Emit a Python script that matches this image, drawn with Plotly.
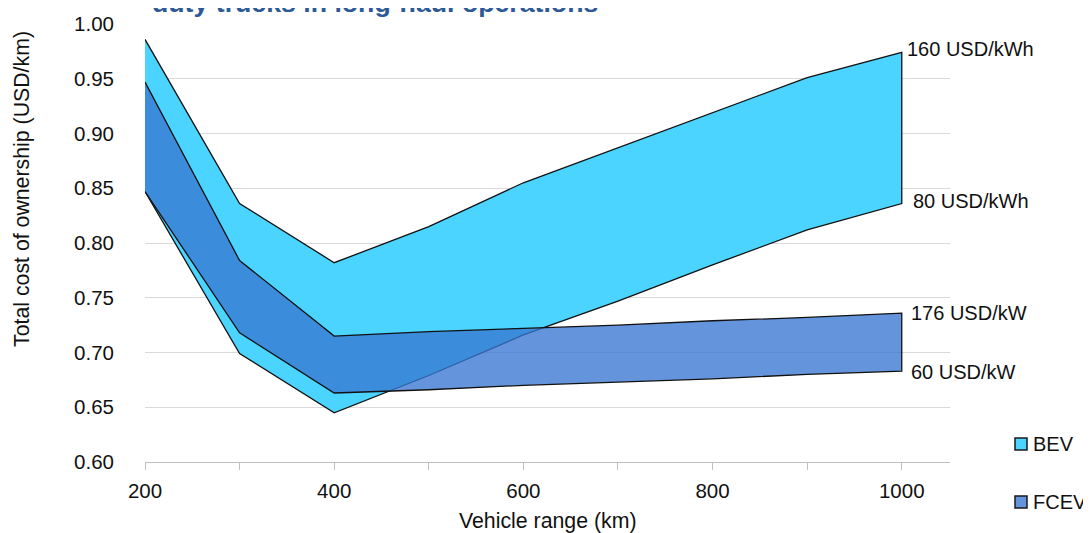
import plotly.graph_objects as go

# ---- data ----
range_km = [200, 300, 400, 500, 600, 700, 800, 900, 1000]
bev_160 = [0.986, 0.836, 0.782, 0.815, 0.855, 0.887, 0.919, 0.951, 0.974]
bev_80 = [0.847, 0.699, 0.645, 0.679, 0.716, 0.747, 0.780, 0.812, 0.836]
fcev_176 = [0.947, 0.784, 0.715, 0.719, 0.722, 0.725, 0.729, 0.732, 0.736]
fcev_60 = [0.847, 0.718, 0.663, 0.666, 0.670, 0.673, 0.676, 0.680, 0.683]
end_labels_bev = ["160 USD/kWh", "80 USD/kWh"]
end_labels_fcev = ["176 USD/kW", "60 USD/kW"]
series_names = ["BEV", "FCEV"]

title_text = "duty trucks in long-haul operations"
x_title = "Vehicle range (km)"
y_title = "Total cost of ownership (USD/km)"

BEV_FILL = "#4AD4FF"
FCEV_FILL = "rgba(56,119,210,0.78)"
FCEV_LEGEND = "#6495DC"
EDGE = "#111111"
FONT = "Liberation Sans, Arial, sans-serif"

# page is shown with the browser's default 8px body margin
OFF = 8
PAGE_W, PAGE_H = 1091, 533
W, H = PAGE_W - OFF, PAGE_H - OFF
PL, PR, PT, PB = 145, 950, 24, 462          # plot area in page pixels
ML, MT = PL - OFF, PT - OFF
MR, MB = W - (PR - OFF), H - (PB - OFF)
PW, PH = PR - PL, PB - PT


def px_x(p):
    return (p - PL) / PW


def px_y(p):
    return (PB - p) / PH


fig = go.Figure()


def band(upper, lower, fill, name):
    xs = range_km + range_km[::-1]
    ys = upper + lower[::-1]
    fig.add_trace(go.Scatter(
        x=xs, y=ys, mode="lines", fill="toself", fillcolor=fill,
        line=dict(color=EDGE, width=1.3), name=name, showlegend=False,
        hoverinfo="skip"))


band(bev_160, bev_80, BEV_FILL, series_names[0])
band(fcev_176, fcev_60, FCEV_FILL, series_names[1])

annotations = []
shapes = []
# end labels
for txt, yv, xs in [(end_labels_bev[0], bev_160[-1], 3), (end_labels_bev[1], bev_80[-1], 9)]:
    annotations.append(dict(x=range_km[-1], y=yv, xref="x", yref="y", text=txt,
                            showarrow=False, xanchor="left", yanchor="middle",
                            xshift=xs, yshift=3, font=dict(size=20, color="#111111", family=FONT)))
for txt, yv, ys in [(end_labels_fcev[0], fcev_176[-1], 0), (end_labels_fcev[1], fcev_60[-1], -1)]:
    annotations.append(dict(x=range_km[-1], y=yv, xref="x", yref="y", text=txt,
                            showarrow=False, xanchor="left", yanchor="middle",
                            xshift=7, yshift=ys, font=dict(size=20, color="#111111", family=FONT)))
# clipped title (only its lower part shows at the top edge)
annotations.append(dict(x=px_x(150), y=px_y(20), xref="paper", yref="paper", text="<b>" + title_text + "</b>",
                        showarrow=False, xanchor="left", yanchor="bottom",
                        font=dict(size=26.7, color="#2D5A96", family=FONT)))
# axis titles
annotations.append(dict(x=0.5, y=px_y(521), xref="paper", yref="paper", text=x_title,
                        showarrow=False, xanchor="center", yanchor="middle",
                        font=dict(size=21.3, color="#111111", family=FONT)))
annotations.append(dict(x=px_x(22), y=px_y(189), xref="paper", yref="paper", text=y_title,
                        showarrow=False, xanchor="center", yanchor="middle", textangle=-90,
                        font=dict(size=21.3, color="#111111", family=FONT)))

# legend (swatch + label)
for name, col, cy in zip(series_names, [BEV_FILL, FCEV_LEGEND], [444, 502]):
    shapes.append(dict(type="rect", xref="paper", yref="paper",
                       x0=px_x(1015), x1=px_x(1027), y0=px_y(cy + 6), y1=px_y(cy - 6),
                       fillcolor=col, line=dict(color="#1a1a1a", width=1.5)))
    annotations.append(dict(x=px_x(1031), y=px_y(cy), xref="paper", yref="paper", text=name,
                            showarrow=False, xanchor="left", yanchor="middle",
                            font=dict(size=20, color="#111111", family=FONT)))

fig.update_layout(
    width=W, height=H,
    margin=dict(l=ML, r=MR, t=MT, b=MB, autoexpand=False),
    paper_bgcolor="white", plot_bgcolor="white",
    font=dict(family=FONT, size=20, color="#111111"),
    showlegend=False,
    annotations=annotations,
    shapes=shapes,
)
fig.update_xaxes(
    range=[200, 1051], tickmode="linear", tick0=200, dtick=200, automargin=False,
    showgrid=False, zeroline=False,
    showline=True, linecolor="#BFBFBF", linewidth=1.3,
    ticks="outside", ticklen=7, tickcolor="#BFBFBF", tickwidth=1.3,
    minor=dict(dtick=100, tick0=200, ticks="outside", ticklen=7, tickcolor="#BFBFBF", tickwidth=1.3, showgrid=False),
    ticklabelstandoff=3,
    tickfont=dict(size=20.5, color="#111111", family=FONT),
)
fig.update_yaxes(
    range=[0.6, 1.0], tickmode="linear", tick0=0.6, dtick=0.05, tickformat=".2f", automargin=False,
    showgrid=True, gridcolor="#D9D9D9", gridwidth=1.3, zeroline=False,
    showline=False, ticks="", ticklabelstandoff=30,
    tickfont=dict(size=20.5, color="#111111", family=FONT),
)

fig.write_html("out.html")
